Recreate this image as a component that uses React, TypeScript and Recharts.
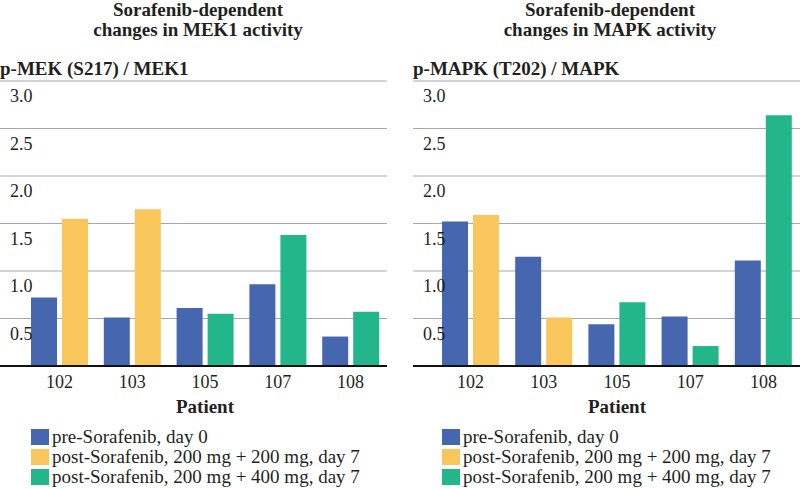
import { Bar, BarChart, CartesianGrid, Cell, XAxis, YAxis } from "recharts";

const patients = ["102", "103", "105", "107", "108"];
// second bar in each group is either the 200+200 (yellow) or the 200+400 (green) dose
const doseGroup = ["low", "low", "high", "high", "high"] as const;

const mekPre = [0.72, 0.51, 0.61, 0.86, 0.31];
const mekPost = [1.55, 1.65, 0.55, 1.38, 0.57];

const mapkPre = [1.52, 1.15, 0.44, 0.52, 1.11];
const mapkPost = [1.59, 0.51, 0.67, 0.21, 2.64];

const yTicks = [0.5, 1.0, 1.5, 2.0, 2.5, 3.0];

const legendLabels = [
  "pre-Sorafenib, day 0",
  "post-Sorafenib, 200 mg + 200 mg, day 7",
  "post-Sorafenib, 200 mg + 400 mg, day 7",
];

const COLORS = {
  pre: "#4667B0",
  low: "#F8C65B",
  high: "#24B68B",
};
const legendColors = [COLORS.pre, COLORS.low, COLORS.high];

const FONT = '"Liberation Serif", "Times New Roman", serif';
const TEXT = "#231f20";

function YTick(props: any) {
  const { x, y, payload } = props;
  return (
    <text x={x + 2} y={y + 21} fill={TEXT} fontSize={18} fontFamily={FONT} textAnchor="start">
      {payload.value.toFixed(1)}
    </text>
  );
}

function Panel({
  left,
  title,
  yTitle,
  pre,
  post,
  padLeft,
}: {
  left: number;
  title: string[];
  yTitle: string;
  pre: number[];
  post: number[];
  padLeft: number;
}) {
  const data = patients.map((p, i) => ({ patient: p, pre: pre[i], post: post[i], group: doseGroup[i] }));
  const bandLeft = left + padLeft;
  const bandCenter = bandLeft + (387 - padLeft) / 2;

  return (
    <>
      <div
        style={{
          position: "absolute",
          left: bandCenter - 157,
          width: 300,
          top: 0,
          textAlign: "center",
          fontFamily: FONT,
          fontWeight: "bold",
          fontSize: 19,
          lineHeight: "20px",
          color: TEXT,
        }}
      >
        {title[0]}
        <br />
        {title[1]}
      </div>
      <div
        style={{
          position: "absolute",
          left: left,
          top: 58,
          fontFamily: FONT,
          fontWeight: "bold",
          fontSize: 19,
          color: TEXT,
          whiteSpace: "nowrap",
        }}
      >
        {yTitle}
      </div>
      <div style={{ position: "absolute", left: left - 3, top: 0 }}>
        <BarChart
          width={390}
          height={489}
          data={data}
          margin={{ top: 81, right: 0, bottom: 0, left: 3 }}
          barSize={26}
          barGap={5}
        >
          <CartesianGrid vertical={false} stroke="#a8a8a8" strokeWidth={1.2} />
          <XAxis
            dataKey="patient"
            height={123}
            padding={{ left: padLeft, right: 0 }}
            tickLine={false}
            tickMargin={3}
            axisLine={{ stroke: "#111", strokeWidth: 2 }}
            tick={{ fill: TEXT, fontSize: 18, fontFamily: FONT }}
          />
          <YAxis
            domain={[0, 3]}
            ticks={yTicks}
            mirror
            axisLine={false}
            tickLine={false}
            tick={<YTick />}
          />
          <Bar dataKey="pre" fill={COLORS.pre} isAnimationActive={false} />
          <Bar dataKey="post" isAnimationActive={false}>
            {data.map((d) => (
              <Cell key={d.patient} fill={COLORS[d.group]} />
            ))}
          </Bar>
        </BarChart>
      </div>
      <div
        style={{
          position: "absolute",
          left: bandCenter - 100,
          width: 200,
          top: 396,
          textAlign: "center",
          fontFamily: FONT,
          fontWeight: "bold",
          fontSize: 19,
          color: TEXT,
        }}
      >
        Patient
      </div>
      <div style={{ position: "absolute", left: bandLeft + 8, top: 427, fontFamily: FONT, fontSize: 19, color: TEXT }}>
        {legendLabels.map((label, i) => (
          <div key={label} style={{ display: "flex", alignItems: "center", height: 20 }}>
            <span
              style={{ display: "inline-block", width: 18, height: 16, background: legendColors[i], marginRight: 3 }}
            />
            <span style={{ whiteSpace: "nowrap" }}>{label}</span>
          </div>
        ))}
      </div>
    </>
  );
}

export default function App() {
  return (
    <div style={{ position: "absolute", left: 0, top: 0, width: 800, height: 489, background: "#fff", overflow: "hidden" }}>
      <Panel
        left={0}
        title={["Sorafenib-dependent", "changes in MEK1 activity"]}
        yTitle="p-MEK (S217) / MEK1"
        pre={mekPre}
        post={mekPost}
        padLeft={23}
      />
      <Panel
        left={413}
        title={["Sorafenib-dependent", "changes in MAPK activity"]}
        yTitle="p-MAPK (T202) / MAPK"
        pre={mapkPre}
        post={mapkPost}
        padLeft={21}
      />
    </div>
  );
}
